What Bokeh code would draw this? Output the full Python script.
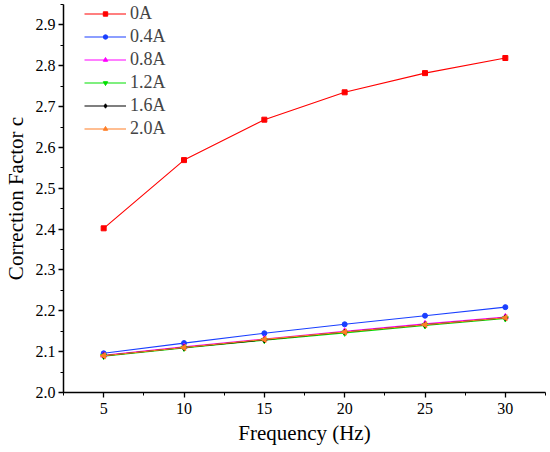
from bokeh.plotting import figure
from bokeh.models import Range1d, Legend, LegendItem, SingleIntervalTicker, NumeralTickFormatter
from bokeh.embed import file_html
from bokeh.resources import INLINE
import math

freq = [5, 10, 15, 20, 25, 30]
labels = ["0A", "0.4A", "0.8A", "1.2A", "1.6A", "2.0A"]
c_0A = [2.402, 2.569, 2.668, 2.735, 2.782, 2.819]
c_04A = [2.096, 2.121, 2.145, 2.167, 2.188, 2.209]
c_08A = [2.091, 2.112, 2.131, 2.150, 2.168, 2.185]
c_12A = [2.089, 2.109, 2.128, 2.146, 2.164, 2.181]
c_16A = [2.090, 2.110, 2.129, 2.148, 2.166, 2.183]
c_20A = [2.090, 2.110, 2.130, 2.148, 2.166, 2.183]
series = [c_0A, c_04A, c_08A, c_12A, c_16A, c_20A]
colors = ["#FF0000", "#1A3FFF", "#FF00FF", "#00E000", "#000000", "#FF7F27"]
markers = ["square", "circle", "triangle", "inverted_triangle", "diamond", "triangle"]
angles = [0, 0, 0, 0, 0, math.pi / 2]
msizes = [5, 5, 6, 6, 6, 6]

FONT = "Liberation Serif"

p = figure(width=550, height=452, output_backend="svg", toolbar_location=None,
           x_range=Range1d(2.5, 32.5), y_range=Range1d(2.0, 2.95),
           min_border_left=63, min_border_right=5, min_border_top=4, min_border_bottom=60)
p.frame_width = 482
p.frame_height = 388
p.outline_line_color = None
p.grid.visible = False
p.background_fill_color = "white"

items = []
for lab, ys, col, mk, ang, ms in zip(labels, series, colors, markers, angles, msizes):
    r1 = p.line(freq, ys, line_color=col, line_width=1.1)
    r2 = p.scatter(freq, ys, marker=mk, size=ms, angle=ang, fill_color=col, line_color=col)
    items.append(LegendItem(label=lab, renderers=[r1, r2]))

legend = Legend(items=items, location=(21, 252), border_line_color=None,
                background_fill_alpha=0, padding=2, spacing=0, margin=0,
                glyph_width=42, glyph_height=11, label_height=23, label_standoff=4,
                label_text_font=FONT, label_text_font_size="18px")
p.add_layout(legend)

p.xaxis.ticker = SingleIntervalTicker(interval=5, num_minor_ticks=2)
p.yaxis.ticker = SingleIntervalTicker(interval=0.1, num_minor_ticks=2)
p.yaxis.formatter = NumeralTickFormatter(format="0.0")
p.xaxis.axis_label = "Frequency (Hz)"
p.yaxis.axis_label = "Correction Factor c"
for ax in (p.xaxis, p.yaxis):
    ax.axis_label_text_font = FONT
    ax.axis_label_text_font_size = "21px"
    ax.axis_label_text_font_style = "normal"
    ax.axis_label_text_color = "black"
    ax.major_label_text_font = FONT
    ax.major_label_text_font_size = "16px"
    ax.major_label_text_color = "black"
    ax.axis_line_width = 1.5
    ax.axis_line_color = "black"
    ax.major_tick_line_color = "black"
    ax.minor_tick_line_color = "black"
    ax.major_tick_line_width = 1.3
    ax.minor_tick_line_width = 1.0
    ax.major_tick_out = 5
    ax.major_tick_in = 0
    ax.minor_tick_out = 3
    ax.minor_tick_in = 0
p.yaxis.axis_label_standoff = 5
p.yaxis.major_label_standoff = 3
p.xaxis.axis_label_standoff = 4

open("out.html", "w").write(file_html(p, INLINE))
